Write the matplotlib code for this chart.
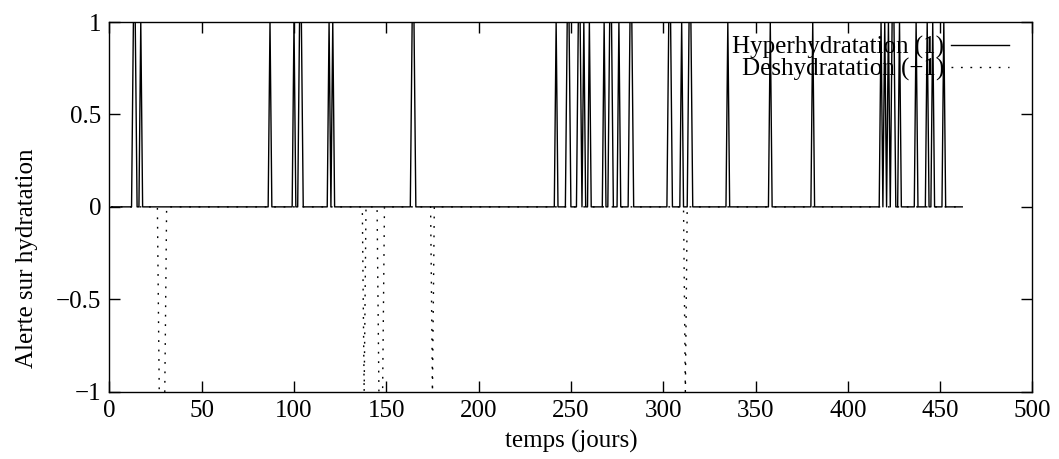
import numpy as np
import matplotlib.pyplot as plt

plt.rcParams['font.family'] = ['Liberation Serif', 'DejaVu Serif']

# periode de suivi (jours)
jour_debut = 1
jour_fin = 462

# jours ou l'alerte hyperhydratation vaut 1
jours_hyper = [13, 14, 17, 87, 100, 103, 104, 119, 121, 164, 165,
               242, 248, 249, 254, 255, 257, 260, 268, 271, 272, 276,
               282, 283, 303, 304, 310, 314, 315, 335, 358, 381,
               418, 420, 422, 424, 425, 428, 437, 443, 446, 452]

# jours ou l'alerte deshydratation vaut -1
jours_deshy = [27, 28, 29, 30, 138, 146, 147, 148, 175, 312]

x_ticks = [0, 50, 100, 150, 200, 250, 300, 350, 400, 450, 500]
y_ticks = [-1, -0.5, 0, 0.5, 1]
y_tick_labels = ['\u22121', '\u22120.5', '0', '0.5', '1']


def main():
    jours = np.arange(jour_debut, jour_fin + 1)
    hyper = np.where(np.isin(jours, jours_hyper), 1, 0)
    deshy = np.where(np.isin(jours, jours_deshy), -1, 0)

    fs = 18
    fig = plt.figure(figsize=(10.59, 4.59), dpi=100)
    ax = fig.add_axes([0.1033, 0.1466, 0.8716, 0.8054])

    ax.plot(jours, hyper, color='black', lw=1.0, label='Hyperhydratation (1)')
    ax.plot(jours, deshy, color='black', lw=1.0, linestyle=(0, (1.3, 5.5)),
            label='Deshydratation (\u22121)')

    ax.set_xlim(0, 500)
    ax.set_ylim(-1, 1)
    ax.set_xticks(x_ticks)
    ax.set_yticks(y_ticks)
    ax.set_yticklabels(y_tick_labels)
    ax.tick_params(direction='in', length=8, width=1, top=True, right=True,
                   labelsize=fs, pad=6, color='black')
    for s in ax.spines.values():
        s.set_linewidth(1)

    ax.set_xlabel('temps (jours)', fontsize=fs, labelpad=6)
    ax.set_ylabel('Alerte sur hydratation', fontsize=fs)
    # label y un peu plus bas que le centre, comme sur l'original
    ax.yaxis.set_label_coords(-0.077, 0.36)

    ax.legend(loc='upper right', bbox_to_anchor=(0.9746, 0.962), frameon=False,
              markerfirst=False, fontsize=fs, handlelength=2.3,
              handletextpad=0.3, labelspacing=-0.05, borderpad=0,
              borderaxespad=0)

    fig.savefig('out.png', dpi=100)


if __name__ == '__main__':
    main()
